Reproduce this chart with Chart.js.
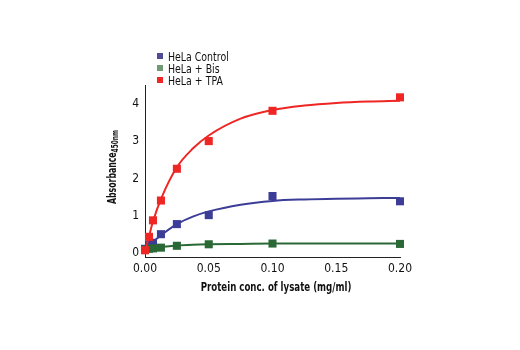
<!DOCTYPE html>
<html>
<head>
<meta charset="utf-8">
<script src="https://cdn.jsdelivr.net/npm/chart.js@4.4.0/dist/chart.umd.min.js"></script>
<style>
  html, body { margin: 0; padding: 0; background: #fff; }
  #wrap { position: relative; width: 520px; height: 350px; }
  #legenda { position: absolute; left: 157px; top: 51px; font-family: 'DejaVu Sans Condensed', 'Liberation Sans Narrow', 'Liberation Sans', Arial, sans-serif; font-size: 12px; color: #111; line-height: 12px; }
  #legenda div { height: 12px; white-space: nowrap; }
  #legenda span.cx { display: inline-block; width: 6px; height: 6px; margin-right: 5px; vertical-align: 2px; }
  #legenda span.tx { display: inline-block; transform: scaleX(0.87); transform-origin: left center; }
</style>
</head>
<body>
<div id="wrap">
  <canvas id="myChart" width="520" height="350"></canvas>
  <div id="legenda"></div>
</div>
<script>
// dados
const concentracoes = [0, 0.003125, 0.00625, 0.0125, 0.025, 0.05, 0.1, 0.2];
const controle = [0.12, 0.22, 0.28, 0.51, 0.78, 1.02, 1.53, 1.39];
const bis = [0.1, 0.12, 0.13, 0.15, 0.2, 0.24, 0.26, 0.25];
const tpa = [0.08, 0.44, 0.88, 1.41, 2.26, 3.0, 3.81, 4.17];

// curvas ajustadas
const xCurva = [0, 0.003125, 0.00625, 0.0125, 0.025, 0.0375, 0.05, 0.075, 0.1, 0.125, 0.15, 0.175, 0.2];
const curvaControle = [0.1, 0.2, 0.3, 0.48, 0.78, 0.98, 1.12, 1.3, 1.4, 1.44, 1.46, 1.47, 1.48];
const curvaBis = [0.1, 0.12, 0.14, 0.17, 0.21, 0.23, 0.24, 0.25, 0.26, 0.26, 0.26, 0.26, 0.26];
const curvaTpa = [0.05, 0.45, 0.85, 1.45, 2.3, 2.8, 3.15, 3.6, 3.83, 3.95, 4.02, 4.06, 4.08];

const xTicks = [0, 0.05, 0.10, 0.15, 0.20];
const yTicks = [0, 1, 2, 3, 4];

const nomes = ['HeLa Control', 'HeLa + Bis', 'HeLa + TPA'];
const cores = ['#3b3d97', '#2a6836', '#ee2624'];
const coresLegenda = ['#4e4c94', '#6f9a73', '#ee2624'];

const tituloX = 'Protein conc. of lysate (mg/ml)';

const fonte = "'DejaVu Sans Condensed', 'Liberation Sans Narrow', 'Liberation Sans', Arial, sans-serif";

function pares(xs, ys) {
    return xs.map(function (x, i) { return { x: x, y: ys[i] }; });
}

const curvas = [curvaControle, curvaBis, curvaTpa];
const pontos = [controle, bis, tpa];
const datasets = [];

for (let i = 0; i < 3; i++) {
    datasets.push({
        label: nomes[i] + ' fit',
        data: pares(xCurva, curvas[i]),
        showLine: true,
        borderColor: cores[i],
        borderWidth: 2,
        pointRadius: 0,
        cubicInterpolationMode: 'monotone',
        order: 3 - i
    });
}
for (let i = 0; i < 3; i++) {
    datasets.push({
        label: nomes[i],
        data: pares(concentracoes, pontos[i]),
        showLine: false,
        pointStyle: 'rect',
        pointRadius: 5.7,
        pointBorderWidth: 0,
        backgroundColor: cores[i],
        borderColor: cores[i],
        order: 3 - i
    });
}

// legenda em HTML
const legenda = document.getElementById('legenda');
nomes.forEach(function (n, i) {
    legenda.innerHTML += '<div><span class="cx" style="background:' + coresLegenda[i] + '"></span><span class="tx">' + n + '</span></div>';
});

// títulos dos eixos (texto estreito, eixo y com subscrito)
const titulos = {
    id: 'titulos',
    afterDraw: function (chart) {
        const ctx = chart.ctx;
        const area = chart.chartArea;
        ctx.save();
        ctx.fillStyle = '#111';
        ctx.textBaseline = 'middle';

        // eixo y
        ctx.save();
        ctx.translate(113, 167);
        ctx.rotate(-Math.PI / 2);
        ctx.scale(0.72, 1);
        ctx.font = 'bold 12px ' + fonte;
        const t1 = 'Absorbance';
        const w1 = ctx.measureText(t1).width;
        ctx.font = 'bold 9px ' + fonte;
        const t2 = '450nm';
        const w2 = ctx.measureText(t2).width;
        const x0 = -(w1 + w2) / 2;
        ctx.font = 'bold 12px ' + fonte;
        ctx.fillText(t1, x0, 0);
        ctx.font = 'bold 9px ' + fonte;
        ctx.fillText(t2, x0 + w1, 3);
        ctx.restore();

        // eixo x
        ctx.save();
        ctx.translate(276, 288);
        ctx.scale(0.8, 1);
        ctx.textAlign = 'center';
        ctx.font = 'bold 12px ' + fonte;
        ctx.fillText(tituloX, 0, 0);
        ctx.restore();

        ctx.restore();
    }
};

const grafico = document.getElementById('myChart');
new Chart(grafico, {
    type: 'scatter',
    data: { datasets: datasets },
    options: {
        responsive: false,
        animation: false,
        layout: { padding: { left: 100, right: 120, top: 85, bottom: 53 } },
        plugins: {
            legend: { display: false },
            tooltip: { enabled: false }
        },
        scales: {
            x: {
                type: 'linear',
                min: 0,
                max: 0.2,
                grid: { display: false, drawTicks: true, tickLength: 3 },
                border: { color: '#222', width: 1 },
                afterBuildTicks: function (s) { s.ticks = xTicks.map(function (v) { return { value: v }; }); },
                ticks: {
                    color: '#111',
                    font: { family: fonte, size: 12 },
                    padding: 2,
                    maxRotation: 0,
                    callback: function (v) { return Number(v).toFixed(2); }
                },
                afterFit: function (s) { s.height = 40; }
            },
            y: {
                min: -0.1,
                max: 4.5,
                grid: { display: false, drawTicks: true, tickLength: 4 },
                border: { color: '#222', width: 1 },
                afterBuildTicks: function (s) { s.ticks = yTicks.map(function (v) { return { value: v }; }); },
                ticks: {
                    color: '#111',
                    font: { family: fonte, size: 12 },
                    padding: 2
                },
                afterFit: function (s) { s.width = 45; }
            }
        },
        elements: { point: { hitRadius: 0 } },
        clip: false
    },
    plugins: [titulos]
});
</script>
</body>
</html>
